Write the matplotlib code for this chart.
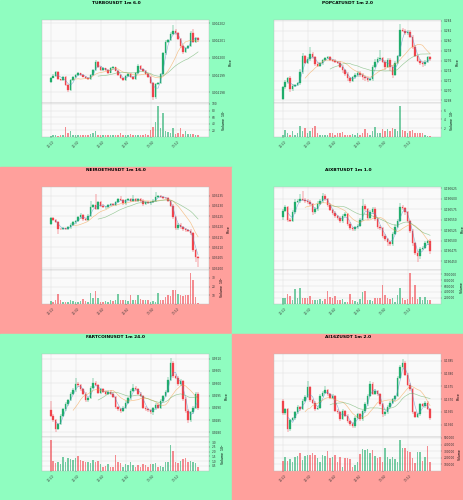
import numpy as np
import pandas as pd
import matplotlib
matplotlib.use("Agg")
import matplotlib.pyplot as plt
from matplotlib.patches import Rectangle

# ---- data (prices stored in small units, see *_scale) ----
time_labels = ["12:20", "12:30", "12:40", "12:50", "13:00", "13:10"]

turbo_open = 2198.58
turbo_close = [2198.85, 2198.95, 2199.20, 2198.75, 2198.71, 2198.91, 2198.43, 2198.14, 2198.71, 2198.87,
               2199.00, 2199.10, 2199.02, 2198.91, 2198.81, 2198.75, 2199.00, 2199.29, 2199.78, 2199.49,
               2199.29, 2199.39, 2199.29, 2199.14, 2199.39, 2199.45, 2199.26, 2199.00, 2198.81, 2198.71,
               2198.95, 2199.06, 2198.87, 2198.75, 2199.10, 2199.53, 2199.33, 2199.24, 2199.06, 2198.87,
               2198.56, 2197.71, 2198.48, 2198.52, 2199.06, 2200.26, 2200.94, 2201.03, 2201.38, 2201.56,
               2201.42, 2201.07, 2200.69, 2200.36, 2200.55, 2200.69, 2201.42, 2200.94, 2201.13, 2201.03]
turbo_wick_hi = [0.05, 0.08, 0.06, 0.05, 0.04, 0.06, 0.05, 0.04, 0.06, 0.05,
                 0.05, 0.06, 0.04, 0.05, 0.04, 0.05, 0.06, 0.05, 0.10, 0.05,
                 0.05, 0.06, 0.04, 0.05, 0.06, 0.05, 0.04, 0.05, 0.05, 0.04,
                 0.06, 0.05, 0.04, 0.05, 0.06, 0.10, 0.05, 0.04, 0.05, 0.04,
                 0.05, 0.04, 0.06, 0.05, 0.06, 0.08, 0.10, 0.06, 0.10, 0.35,
                 0.08, 0.06, 0.05, 0.06, 0.08, 0.06, 0.12, 0.23, 0.06, 0.05]
turbo_wick_lo = [0.05, 0.04, 0.05, 0.06, 0.05, 0.04, 0.06, 0.12, 0.05, 0.04,
                 0.05, 0.04, 0.05, 0.04, 0.06, 0.05, 0.04, 0.05, 0.04, 0.06,
                 0.05, 0.04, 0.05, 0.06, 0.04, 0.05, 0.05, 0.04, 0.06, 0.08,
                 0.04, 0.05, 0.04, 0.05, 0.04, 0.05, 0.04, 0.05, 0.04, 0.05,
                 0.06, 0.15, 0.08, 0.05, 0.05, 0.06, 0.08, 0.06, 0.05, 0.06,
                 0.08, 0.06, 0.10, 0.12, 0.06, 0.05, 0.06, 0.08, 0.06, 0.10]
turbo_vol = [3, 4, 4, 3, 6, 6, 31, 11, 16, 6, 6, 5, 5, 5, 5, 6, 8, 11, 16, 6,
             6, 6, 5, 6, 6, 5, 5, 6, 11, 6, 5, 6, 9, 6, 6, 5, 6, 6, 8, 6,
             21, 31, 46, 93, 28, 73, 18, 14, 11, 27, 8, 10, 27, 7, 17, 7, 9, 9, 6, 6]

popcat_open = 268.23
popcat_close = [270.64, 271.79, 272.46, 270.24, 270.91, 271.11, 271.45, 273.80, 276.95, 275.61,
                276.28, 277.36, 276.68, 275.34, 274.94, 275.48, 276.15, 276.48, 276.68, 276.15,
                276.01, 275.81, 275.61, 274.81, 274.13, 273.33, 272.46, 271.99, 272.66, 273.13,
                273.60, 273.13, 272.79, 272.46, 272.12, 272.26, 274.81, 275.81, 276.28, 276.48,
                275.81, 274.81, 276.15, 274.81, 273.13, 275.61, 276.95, 282.19, 282.05, 281.52,
                281.79, 280.85, 278.83, 276.95, 276.01, 275.61, 275.34, 275.81, 276.68, 276.28]
popcat_wick_hi = [0.3, 0.4, 0.3, 0.5, 0.3, 0.2, 0.3, 0.5, 0.6, 0.3, 0.4, 1.5, 0.3, 0.2, 0.3, 0.3, 0.2, 0.3, 0.2, 0.3,
                  0.2, 0.3, 0.2, 0.3, 0.4, 0.3, 0.4, 0.3, 0.3, 0.4, 0.3, 0.4, 0.3, 0.2, 0.3, 0.3, 0.4, 0.5, 0.4, 1.7,
                  0.3, 0.4, 0.3, 0.4, 0.3, 0.4, 0.3, 1.2, 0.4, 0.3, 0.3, 0.4, 0.3, 0.4, 0.3, 0.3, 0.3, 0.4, 0.3, 0.3]
popcat_wick_lo = [0.2, 0.3, 0.4, 0.6, 0.3, 0.3, 0.2, 0.3, 0.4, 0.3, 0.2, 0.3, 0.3, 0.4, 0.3, 0.2, 0.3, 0.2, 0.2, 0.3,
                  0.2, 0.3, 0.2, 0.3, 0.6, 0.5, 0.6, 0.4, 0.3, 0.3, 0.4, 0.5, 0.6, 0.5, 0.4, 0.3, 0.3, 0.3, 0.2, 0.3,
                  0.3, 0.6, 0.3, 0.8, 0.6, 0.3, 0.2, 0.3, 0.2, 0.3, 0.3, 0.3, 0.4, 0.3, 0.3, 0.5, 0.6, 0.4, 0.3, 0.3]
popcat_vol = [0.5, 1.5, 0.8, 0.4, 1.3, 0.4, 0.8, 2.5, 1.3, 1.9, 0.9, 1.3, 2.1, 2.5, 0.9, 0.4, 0.5, 0.5, 0.5, 0.9,
              0.8, 0.5, 0.8, 0.9, 1.0, 0.5, 0.5, 0.4, 0.6, 0.4, 0.8, 0.4, 0.9, 1.7, 0.8, 0.5, 1.2, 2.3, 0.9, 0.8,
              1.8, 1.2, 1.7, 1.2, 1.9, 1.7, 1.2, 7.1, 1.5, 1.2, 0.9, 1.3, 1.5, 0.9, 0.9, 0.9, 0.8, 0.4, 0.15, 0.2]

neiro_open = 3221.3
neiro_close = [3224.0, 3223.2, 3222.1, 3218.9, 3218.8, 3219.2, 3218.8, 3219.7, 3221.0, 3222.1,
               3222.6, 3224.5, 3225.6, 3223.7, 3223.2, 3225.3, 3229.3, 3230.5, 3228.5, 3232.0,
               3230.1, 3229.3, 3229.6, 3230.5, 3230.9, 3230.5, 3231.7, 3233.2, 3232.8, 3231.2,
               3232.8, 3233.2, 3232.5, 3233.1, 3232.5, 3233.2, 3232.5, 3230.9, 3232.0, 3231.2,
               3231.7, 3232.5, 3234.4, 3234.8, 3234.4, 3234.0, 3233.7, 3232.5, 3230.1, 3224.5,
               3219.4, 3221.0, 3219.7, 3218.9, 3218.4, 3218.1, 3216.8, 3208.6, 3205.4, 3205.1]
neiro_wick_hi = [0.5, 0.6, 0.4, 0.5, 0.6, 0.5, 0.4, 0.5, 0.6, 0.5, 0.6, 0.5, 0.8, 0.6, 0.5, 0.6, 3.0, 0.6, 5.4, 0.6,
                 0.5, 0.6, 0.4, 0.6, 0.5, 0.6, 0.5, 0.8, 1.5, 0.6, 0.5, 0.6, 0.5, 2.2, 0.5, 0.6, 0.5, 0.6, 0.5, 0.6,
                 0.5, 0.6, 2.5, 0.6, 0.5, 0.6, 0.5, 0.6, 0.5, 0.6, 0.6, 0.8, 0.6, 0.5, 0.6, 0.5, 0.6, 0.5, 0.6, 0.5]
neiro_wick_lo = [0.5, 0.6, 0.5, 2.4, 0.6, 0.5, 0.6, 0.5, 0.6, 0.5, 0.6, 0.5, 0.6, 0.8, 0.6, 0.5, 0.6, 0.5, 0.6, 0.5,
                 0.6, 0.5, 0.6, 0.5, 0.6, 0.5, 0.6, 0.5, 0.6, 0.8, 0.6, 0.5, 0.6, 0.5, 0.6, 0.5, 0.6, 0.8, 0.6, 0.5,
                 0.6, 0.5, 0.6, 0.5, 0.6, 0.5, 0.6, 0.5, 0.8, 0.6, 1.0, 1.2, 0.8, 1.0, 0.8, 0.8, 0.8, 1.0, 2.4, 4.5]
neiro_vol = [3.1, 1.9, 3.9, 10.9, 3.9, 1.9, 1.9, 1.9, 3.9, 3.1, 1.9, 1.9, 3.1, 5.8, 3.1, 1.9, 12.5, 7.0, 14.8, 7.0,
             1.9, 1.9, 2.7, 1.9, 3.9, 3.1, 3.9, 11.7, 4.7, 4.7, 3.9, 3.1, 9.7, 3.9, 4.7, 9.7, 5.8, 3.9, 4.7, 3.9,
             1.9, 3.1, 1.9, 12.5, 3.9, 3.9, 7.8, 9.7, 8.6, 15.6, 15.6, 11.7, 9.7, 8.6, 9.7, 9.7, 35.8, 27.2, 7.8, 0.8]

aixbt_open = 190555.4
aixbt_close = [190571.2, 190580.7, 190549.1, 190547.5, 190567.3, 190593.4, 190594.9, 190598.9, 190597.3, 190594.9,
               190593.4, 190587.0, 190567.3, 190575.2, 190588.6, 190594.9, 190606.8, 190598.9, 190585.5, 190572.8,
               190565.7, 190559.3, 190553.8, 190545.9, 190559.3, 190563.3, 190539.6, 190530.1, 190527.7, 190531.7,
               190535.6, 190549.1, 190583.1, 190575.2, 190553.8, 190567.3, 190575.2, 190551.4, 190533.2, 190530.1,
               190511.9, 190503.9, 190496.1, 190492.1, 190515.8, 190533.2, 190547.5, 190580.7, 190577.5, 190567.3,
               190545.9, 190523.8, 190493.7, 190469.9, 190462.0, 190480.2, 190482.6, 190493.7, 190498.4, 190474.7]
aixbt_wick_hi = [4, 5, 3, 4, 5, 6, 5, 12, 20, 4, 4, 3, 4, 5, 6, 5, 8, 4, 3, 4,
                 3, 4, 3, 4, 5, 4, 3, 4, 3, 4, 5, 6, 16, 4, 3, 5, 6, 4, 3, 4,
                 3, 4, 3, 4, 5, 6, 5, 10, 4, 3, 3, 4, 3, 3, 4, 5, 4, 5, 4, 6]
aixbt_wick_lo = [6, 4, 5, 4, 3, 4, 3, 4, 3, 4, 5, 4, 5, 3, 4, 3, 4, 5, 4, 3,
                 4, 5, 4, 5, 3, 4, 5, 6, 5, 4, 3, 4, 3, 5, 4, 3, 4, 5, 6, 5,
                 6, 5, 8, 6, 4, 3, 4, 3, 4, 5, 4, 5, 6, 5, 13, 5, 4, 3, 4, 6]
aixbt_vol_k = [193, 193, 341, 250, 136, 511, 193, 545, 193, 193, 193, 250, 114, 114, 114, 148, 91, 148, 432, 227,
               193, 250, 136, 114, 170, 57, 57, 341, 136, 91, 57, 170, 398, 432, 136, 114, 91, 193, 193, 193,
               625, 284, 193, 148, 193, 57, 284, 534, 193, 136, 170, 1045, 227, 648, 170, 227, 136, 227, 136, 114]

fart_open = 9289.0
fart_close = [9286.7, 9285.0, 9281.4, 9283.4, 9286.7, 9289.4, 9291.5, 9293.1, 9295.8, 9297.1,
              9299.8, 9299.2, 9297.5, 9295.8, 9293.1, 9294.1, 9298.2, 9300.2, 9299.2, 9296.2,
              9297.5, 9296.6, 9295.8, 9296.6, 9295.8, 9294.4, 9290.4, 9289.4, 9288.8, 9290.1,
              9292.1, 9293.9, 9296.8, 9298.2, 9297.5, 9295.8, 9294.8, 9290.1, 9289.4, 9289.0,
              9288.1, 9289.8, 9291.2, 9290.1, 9292.8, 9294.8, 9296.6, 9301.5, 9308.3, 9302.9,
              9302.2, 9299.5, 9300.9, 9293.5, 9288.8, 9285.0, 9288.1, 9290.1, 9295.8, 9289.8]
fart_wick_hi = [3.8, 0.6, 0.5, 0.6, 0.7, 0.6, 0.7, 0.6, 0.7, 0.8, 2.2, 0.8, 0.6, 0.5, 0.6, 0.5, 0.7, 2.0, 0.6, 0.5,
                0.6, 0.5, 0.6, 0.5, 0.6, 0.5, 0.6, 0.5, 0.6, 0.5, 0.6, 0.7, 0.8, 1.3, 0.6, 0.7, 0.5, 0.6, 0.5, 0.6,
                0.5, 0.6, 0.7, 0.6, 0.7, 0.6, 0.7, 1.0, 2.0, 0.8, 0.7, 0.6, 0.8, 0.6, 0.7, 0.6, 0.7, 0.6, 0.8, 0.6]
fart_wick_lo = [0.6, 0.7, 1.3, 0.6, 0.5, 0.6, 0.5, 0.6, 0.5, 0.6, 0.5, 0.6, 0.7, 0.6, 0.7, 0.6, 0.5, 0.6, 0.5, 0.6,
                0.5, 0.6, 0.5, 0.6, 0.5, 0.6, 0.7, 0.6, 0.8, 0.7, 0.6, 0.5, 0.6, 0.5, 0.6, 0.5, 0.6, 0.7, 0.8, 0.7,
                0.8, 1.0, 0.6, 0.7, 0.6, 0.5, 0.6, 0.5, 0.6, 0.7, 0.6, 0.7, 0.8, 0.6, 0.8, 1.3, 0.7, 0.6, 0.5, 0.8]
fart_vol = [3.22, 0.98, 0.77, 0.87, 0.70, 1.40, 0.94, 1.29, 1.22, 1.12, 1.29, 1.50, 1.12, 1.05, 0.87, 0.87, 0.77, 1.12, 0.87, 1.05,
            0.70, 0.42, 0.52, 0.70, 0.42, 0.42, 1.68, 0.87, 0.77, 0.42, 0.70, 0.63, 0.87, 0.59, 0.42, 0.63, 0.42, 0.70, 0.59, 0.42,
            0.70, 0.70, 0.77, 0.35, 0.52, 0.42, 0.94, 0.94, 2.69, 2.10, 0.94, 0.80, 1.05, 1.22, 1.29, 0.87, 1.05, 0.94, 0.77, 0.35]

ai16z_open = 1369.3
ai16z_close = [1364.4, 1366.1, 1358.3, 1361.8, 1362.6, 1364.8, 1367.0, 1366.1, 1369.3, 1370.8,
               1374.7, 1369.5, 1368.6, 1366.1, 1366.7, 1371.2, 1372.5, 1373.4, 1371.9, 1370.6,
               1371.2, 1365.4, 1364.8, 1362.2, 1365.4, 1363.5, 1361.3, 1360.3, 1359.6, 1362.8,
               1364.1, 1362.2, 1365.2, 1368.0, 1371.2, 1376.0, 1372.1, 1373.1, 1371.9, 1368.0,
               1364.1, 1364.8, 1367.0, 1368.6, 1369.9, 1371.2, 1378.3, 1382.4, 1384.1, 1379.6,
               1375.7, 1373.8, 1364.8, 1363.1, 1364.1, 1368.0, 1367.3, 1368.6, 1366.1, 1362.8]
ai16z_wick_hi = [0.6, 0.5, 0.6, 0.5, 0.6, 0.5, 0.6, 0.5, 0.6, 0.7, 2.3, 0.6, 0.5, 0.6, 0.5, 0.6, 0.7, 1.7, 0.6, 0.5,
                 0.6, 0.5, 0.6, 0.5, 0.6, 0.5, 0.6, 0.5, 0.6, 0.5, 0.6, 0.5, 0.6, 0.7, 0.6, 1.0, 0.7, 0.8, 0.6, 0.5,
                 0.6, 0.5, 0.6, 0.5, 0.6, 0.5, 0.7, 0.8, 1.7, 0.6, 0.5, 0.6, 0.5, 0.6, 0.5, 0.6, 0.5, 0.6, 0.5, 0.6]
ai16z_wick_lo = [0.6, 0.5, 1.3, 0.6, 0.5, 0.6, 0.5, 0.6, 0.5, 0.6, 0.5, 0.6, 0.5, 0.6, 0.5, 0.6, 0.5, 0.6, 0.5, 0.6,
                 0.5, 0.6, 0.5, 0.6, 0.5, 0.6, 0.5, 0.6, 0.7, 1.0, 0.6, 0.8, 0.6, 0.5, 0.6, 0.5, 0.6, 0.5, 0.6, 0.8,
                 0.9, 0.6, 0.5, 0.6, 0.5, 0.6, 0.5, 0.6, 0.5, 0.6, 0.5, 0.6, 0.7, 0.6, 0.5, 0.6, 0.5, 0.6, 0.5, 1.0]
ai16z_vol_k = [143, 204, 153, 179, 128, 214, 230, 265, 163, 230, 245, 245, 265, 245, 194, 128, 245, 230, 296, 194,
               214, 245, 128, 214, 51, 194, 194, 179, 51, 87, 128, 255, 332, 316, 332, 265, 316, 230, 194, 214,
               128, 347, 214, 179, 214, 179, 128, 469, 342, 342, 296, 281, 194, 112, 281, 281, 153, 204, 383, 128]

GREEN_BG = '#8ffdc0'
RED_BG = '#ffa09c'
UP = '#20ad6b'
DOWN = '#f0434b'
MAV_COLORS = ['#4f8fc8', '#f39a3c', '#5aaa5a']
W, H = 464, 500

fig = plt.figure(figsize=(W / 100, H / 100), dpi=100)


def px_axes(left, top, w, h):
    return fig.add_axes([left / W, 1 - (top + h) / H, w / W, h / H])


def style_axis(ax):
    ax.set_facecolor('#fafafa')
    ax.grid(True, color='#dcdcdc', linewidth=0.3)
    ax.set_axisbelow(True)
    for sp in ax.spines.values():
        sp.set_color('#bdbdbd')
        sp.set_linewidth(0.3)
    ax.yaxis.tick_right()
    ax.yaxis.set_label_position('right')
    ax.tick_params(labelsize=2.1, length=1, width=0.3, pad=1, colors='#333333')


def draw_panel(col, row, title, bg, open0, closes, wick_hi, wick_lo, vols,
               scale, decimals, yticks, ylim, vticks, vlim, vlabel, vfmt):
    x0, y0 = col * 232, row * 167
    ph = 167 if row < 2 else 166
    fig.patches.append(Rectangle((x0 / W, 1 - (y0 + ph) / H), 232 / W, ph / H,
                                 transform=fig.transFigure, color=bg, zorder=-10))
    fig.text((x0 + 116) / W, 1 - (y0 + 3.3) / H, title, ha='center', va='center',
             fontsize=3.2, fontweight='bold')

    closes = np.array(closes)
    opens = np.concatenate([[open0], closes[:-1]])
    highs = np.maximum(opens, closes) + np.array(wick_hi)
    lows = np.minimum(opens, closes) - np.array(wick_lo)
    idx = np.arange(len(closes))
    cols = np.where(closes >= opens, UP, DOWN)

    ax = px_axes(x0 + 41.7, y0 + 20, 167.6, 83.3)
    style_axis(ax)
    ax.vlines(idx, lows, highs, colors=cols, linewidth=0.35, zorder=2)
    ax.bar(idx, np.abs(closes - opens), bottom=np.minimum(opens, closes), width=0.65,
           color=cols, edgecolor=cols, linewidth=0.2, zorder=3)
    s = pd.Series(closes)
    for w, c in zip((3, 10, 20), MAV_COLORS):
        ax.plot(idx, s.rolling(w).mean(), color=c, linewidth=0.45, alpha=0.6, zorder=4)
    ax.set_xlim(-3.6, 63.5)
    ax.set_ylim(*ylim)
    ax.set_yticks(yticks)
    ax.set_yticklabels([f"{v * scale:.{decimals}f}" for v in yticks])
    ax.set_xticks(np.arange(0, 60, 10))
    ax.tick_params(axis='x', labelbottom=False, length=0)
    ax.set_ylabel('Price', fontsize=2.3, labelpad=2)

    vax = px_axes(x0 + 41.7, y0 + 103.3, 167.6, 33.4)
    style_axis(vax)
    vax.bar(idx, vols, width=0.65, color=cols, alpha=0.6, linewidth=0, zorder=3)
    vax.set_xlim(-3.6, 63.5)
    vax.set_ylim(*vlim)
    vax.set_yticks(vticks)
    vax.set_yticklabels([vfmt.format(v) for v in vticks])
    vax.set_xticks(np.arange(0, 60, 10))
    vax.set_xticklabels(time_labels, rotation=45, ha='center', va='top')
    vax.set_ylabel(vlabel, fontsize=2.3, labelpad=2)


draw_panel(0, 0, 'TURBOUSDT 1m 6.0', GREEN_BG, turbo_open, turbo_close, turbo_wick_hi, turbo_wick_lo,
           turbo_vol, 1e-6, 6, [2198, 2199, 2200, 2201, 2202], (2197.36, 2202.19),
           [20, 40, 60, 80, 100], (0, 102), 'Volume  $10^{7}$', '{:g}')
draw_panel(1, 0, 'POPCATUSDT 1m 2.0', GREEN_BG, popcat_open, popcat_close, popcat_wick_hi, popcat_wick_lo,
           popcat_vol, 1e-3, 3, list(range(268, 285, 2)), (267.42, 284.2),
           [2, 4, 6], (0, 7.7), 'Volume  $10^{7}$', '{:g}')
draw_panel(0, 1, 'NEIROETHUSDT 1m 16.0', RED_BG, neiro_open, neiro_close, neiro_wick_hi, neiro_wick_lo,
           neiro_vol, 1e-5, 5, list(range(3200, 3236, 5)), (3199.0, 3239.1),
           [10, 20, 30], (0, 38.9), 'Volume  $10^{6}$', '{:g}')
draw_panel(1, 1, 'AIXBTUSDT 1m 1.0', GREEN_BG, aixbt_open, aixbt_close, aixbt_wick_hi, aixbt_wick_lo,
           np.array(aixbt_vol_k) * 1000, 1e-6, 6, list(range(190450, 190626, 25)), (190428.8, 190628.2),
           [200000, 400000, 600000, 800000, 1000000], (0, 1136000), 'Volume', '{:d}')
draw_panel(0, 2, 'FARTCOINUSDT 1m 24.0', GREEN_BG, fart_open, fart_close, fart_wick_hi, fart_wick_lo,
           fart_vol, 1e-4, 4, list(range(9280, 9311, 5)), (9278.0, 9311.9),
           [0.5, 1.0, 1.5, 2.0, 2.5, 3.0], (0, 3.5), 'Volume  $10^{6}$', '{:.1f}')
draw_panel(1, 2, 'AI16ZUSDT 1m 2.0', RED_BG, ai16z_open, ai16z_close, ai16z_wick_hi, ai16z_wick_lo,
           np.array(ai16z_vol_k) * 1000, 1e-4, 4, list(range(1360, 1386, 5)), (1355.1, 1387.6),
           [100000, 200000, 300000, 400000, 500000], (0, 510000), 'Volume', '{:d}')

fig.savefig('out.png', dpi=100)
